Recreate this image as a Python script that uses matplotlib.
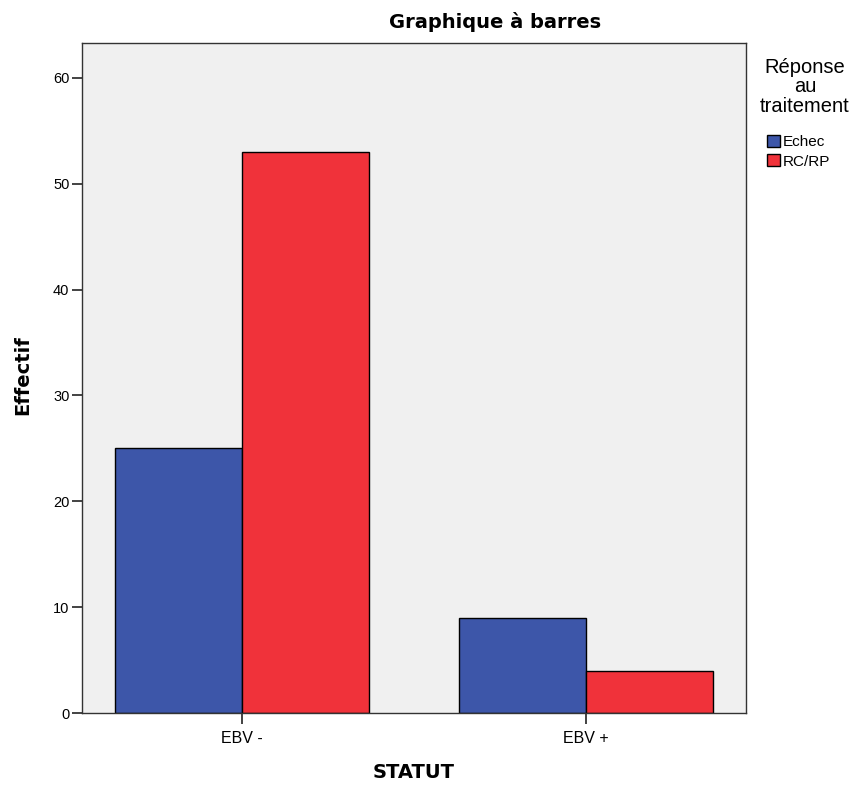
import matplotlib
matplotlib.use("Agg")
import matplotlib.pyplot as plt
import numpy as np
from matplotlib.patches import Patch

plt.rcParams['font.family'] = ['Liberation Sans', 'DejaVu Sans']

categories = ["EBV -", "EBV +"]
series_names = ["Echec", "RC/RP"]
echec = [25, 9]
rcrp = [53, 4]
yticks = [0, 10, 20, 30, 40, 50, 60]

colors = ["#3d56a9", "#f0323a"]
bold_font = dict(family=["DejaVu Sans"], fontweight="bold", fontsize=14)

fig = plt.figure(figsize=(8.55, 7.85), dpi=100)
ax = fig.add_axes([0.0959, 0.0917, 0.7766, 0.8535])
ax.set_facecolor("#f0f0f0")

x = np.arange(len(categories))
w = 0.37
ax.bar(x - w / 2, echec, w, color=colors[0], edgecolor="black", linewidth=1.0)
ax.bar(x + w / 2, rcrp, w, color=colors[1], edgecolor="black", linewidth=1.0)

ax.set_xlim(-0.465, 1.465)
ax.set_ylim(0, 63.3)
ax.set_yticks(yticks)
ax.set_xticks(x)
ax.set_xticklabels(categories)
ax.tick_params(axis="y", length=7, width=1.2, labelsize=10.5, pad=2, color="#222222")
ax.tick_params(axis="x", length=8, width=1.2, labelsize=11.5, pad=5, color="#222222")
for s in ax.spines.values():
    s.set_color("#333333")
    s.set_linewidth(1.0)

# Axis titles and chart title
fig.text(23 / 855, 1 - 375 / 785, "Effectif", rotation=90,
         ha="center", va="center", **bold_font)
fig.text(414 / 855, 1 - 772 / 785, "STATUT", ha="center", va="center", **bold_font)
fig.text(495 / 855, 1 - 22 / 785, "Graphique à barres", ha="center", va="center",
         **bold_font)

# Legend
fig.text(805 / 855, 1 - 87 / 785, "Réponse\nau\ntraitement", ha="center",
         va="center", fontsize=14.5, linespacing=1.02, multialignment="center")
handles = [Patch(facecolor=c, edgecolor="black", linewidth=1.0) for c in colors]
fig.legend(handles, series_names, loc="upper left",
           bbox_to_anchor=(767 / 855, 1 - 135 / 785),
           frameon=False, fontsize=11, borderpad=0, borderaxespad=0,
           handlelength=0.85, handleheight=0.85, handletextpad=0.15,
           labelspacing=0.32)

fig.savefig("out.png", dpi=100)
